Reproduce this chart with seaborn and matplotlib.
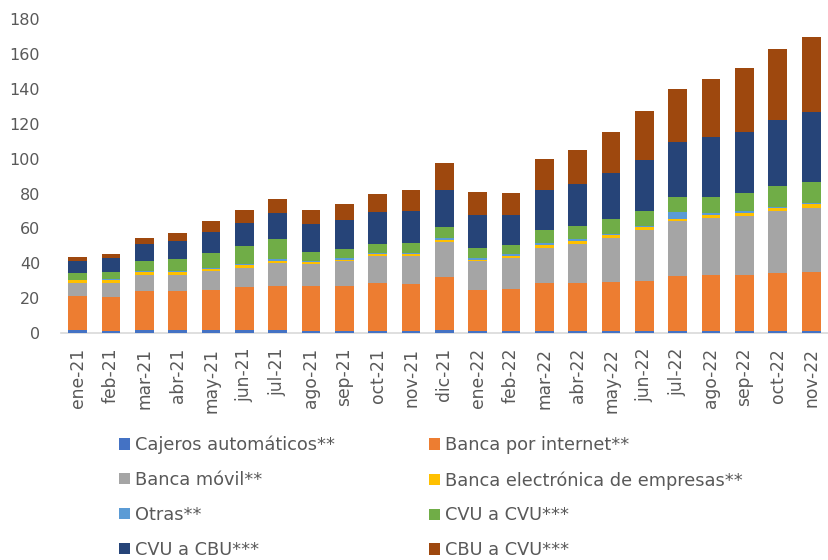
import numpy as np
import pandas as pd
import matplotlib
matplotlib.use("Agg")
import matplotlib.pyplot as plt
import seaborn as sns
from matplotlib.patches import Patch

months = ["ene-21", "feb-21", "mar-21", "abr-21", "may-21", "jun-21", "jul-21",
          "ago-21", "sep-21", "oct-21", "nov-21", "dic-21", "ene-22", "feb-22",
          "mar-22", "abr-22", "may-22", "jun-22", "jul-22", "ago-22", "sep-22",
          "oct-22", "nov-22"]

cajeros = [1.9, 1.5, 1.9, 1.7, 1.7, 1.7, 2.1, 1.5, 1.5, 1.5, 1.5, 1.9, 1.3, 1.3,
           1.3, 1.3, 1.3, 1.3, 1.3, 1.3, 1.3, 1.3, 1.3]
internet = [19.3, 19.3, 22.4, 22.6, 23.0, 24.5, 25.0, 25.3, 25.8, 27.0, 26.8, 30.2,
            23.7, 24.3, 27.2, 27.6, 28.1, 28.7, 31.2, 31.8, 32.1, 33.1, 33.5]
movil = [7.8, 8.2, 9.1, 9.3, 10.7, 11.4, 13.0, 12.6, 13.8, 15.5, 15.7, 19.9,
         16.1, 17.2, 20.6, 22.3, 24.9, 28.9, 31.5, 32.8, 33.9, 35.5, 37.2]
empresas = [1.2, 1.2, 1.4, 1.2, 1.3, 1.4, 1.4, 1.3, 1.1, 1.1, 1.3, 1.5,
            1.1, 1.5, 1.3, 1.5, 1.7, 1.7, 1.7, 1.6, 1.5, 1.6, 1.8]
otras = [0.4, 0.6, 0.7, 0.6, 0.8, 0.7, 0.9, 0.6, 0.8, 0.8, 0.6, 1.0,
         1.0, 0.8, 1.2, 1.4, 1.1, 1.1, 3.5, 1.1, 1.0, 0.7, 0.9]
cvu_cvu = [4.0, 4.4, 6.0, 7.2, 8.4, 10.4, 11.7, 5.5, 5.5, 5.3, 5.9, 6.5,
           5.7, 5.5, 7.3, 7.1, 8.1, 8.4, 8.8, 9.7, 10.5, 12.1, 11.9]
cvu_cbu = [6.7, 7.6, 9.5, 10.5, 11.8, 13.3, 14.7, 15.7, 16.3, 18.0, 18.3, 20.8,
           18.9, 17.2, 23.1, 24.0, 26.5, 29.3, 31.3, 33.9, 35.1, 37.8, 39.9]
cbu_cvu = [2.5, 2.7, 3.7, 4.4, 6.5, 7.1, 8.0, 8.0, 9.2, 10.5, 11.7, 15.5,
           13.0, 12.8, 17.6, 19.5, 23.5, 27.9, 30.4, 33.2, 36.5, 40.7, 43.0]

series_names = ["Cajeros automáticos**", "Banca por internet**", "Banca móvil**",
                "Banca electrónica de empresas**", "Otras**", "CVU a CVU***",
                "CVU a CBU***", "CBU a CVU***"]
series_values = [cajeros, internet, movil, empresas, otras, cvu_cvu, cvu_cbu, cbu_cvu]
colors = ["#4472C4", "#ED7D31", "#A5A5A5", "#FFC000", "#5B9BD5", "#70AD47",
          "#264478", "#9E480E"]

text_color = "#595959"
axis_color = "#D9D9D9"

sns.set_style("white")
plt.rcParams["font.family"] = ["DejaVu Sans"]

fig = plt.figure(figsize=(8.29, 5.6), dpi=100)
ax = fig.add_axes([0.0736, 0.405, 0.925, 0.561])

arr = np.array(series_values)
cum = np.cumsum(arr, axis=0)

for i in range(len(series_names) - 1, -1, -1):
    df = pd.DataFrame({"month": months, "value": cum[i]})
    sns.barplot(data=df, x="month", y="value", order=months, color=colors[i],
                saturation=1, width=0.56, linewidth=0, edgecolor="none",
                ax=ax, zorder=4)

ax.set_xlim(-0.5, len(months) - 0.5)
ax.set_ylim(0, 180)
ax.set_yticks(range(0, 181, 20))
ax.set_xlabel("")
ax.set_ylabel("")

for s in ["top", "right", "left"]:
    ax.spines[s].set_visible(False)
ax.spines["bottom"].set_color(axis_color)
ax.spines["bottom"].set_linewidth(1.2)
ax.spines["bottom"].set_zorder(1)

ax.tick_params(axis="y", length=0, labelsize=11.5, labelcolor=text_color, pad=15)
ax.tick_params(axis="x", which="major", length=0, labelsize=12.3,
               labelcolor=text_color, rotation=90, pad=10.5)
ax.set_xticks(np.arange(-0.5, len(months), 1.0), minor=True)
ax.tick_params(axis="x", which="minor", length=6, color=axis_color, width=1)

handles = [Patch(facecolor=c, edgecolor="none") for c in colors]
order = [0, 2, 4, 6, 1, 3, 5, 7]
fig.legend([handles[i] for i in order], [series_names[i] for i in order],
           loc="upper left", bbox_to_anchor=(0.1435, 0.222), ncol=2,
           frameon=False, fontsize=12.8, labelcolor=text_color,
           handlelength=0.6, handleheight=0.6, handletextpad=0.3,
           columnspacing=5.3, labelspacing=0.95, borderpad=0, borderaxespad=0)

fig.savefig("out.png", dpi=100)
